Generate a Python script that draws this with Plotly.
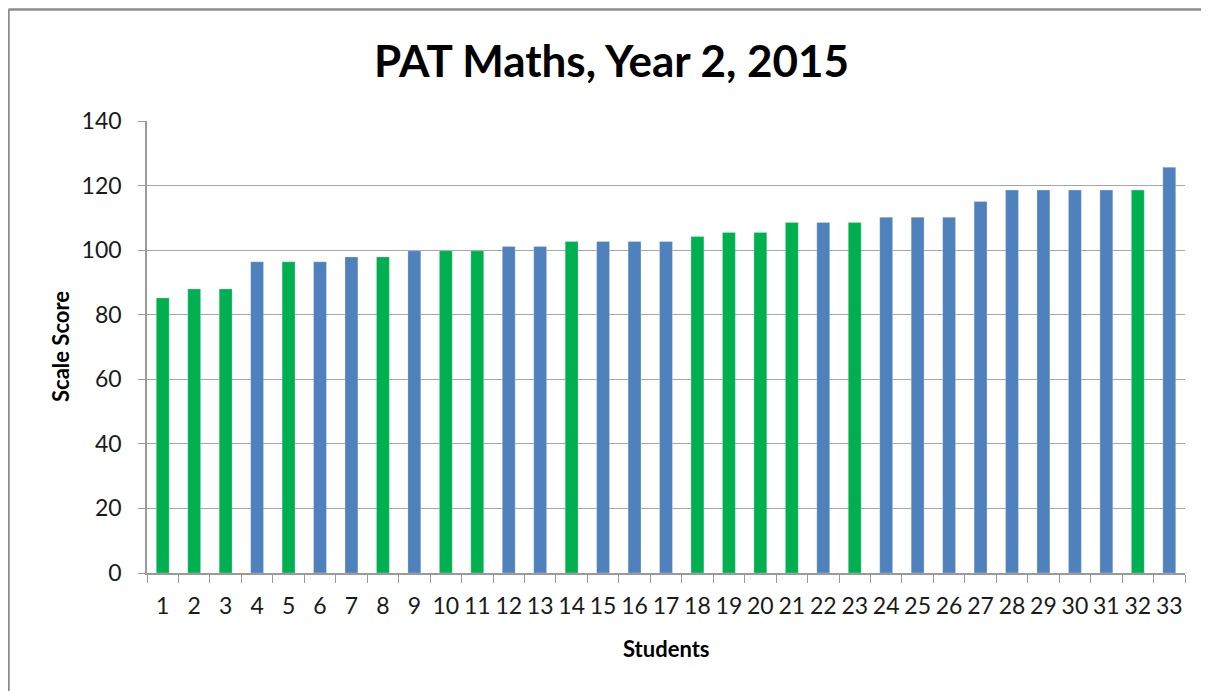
import plotly.graph_objects as go

students = [str(i) for i in range(1, 34)]
scores = [85.2, 88.0, 88.0, 96.4, 96.4, 96.4, 97.9, 97.9, 99.8, 99.8, 99.8,
          101.1, 101.1, 102.7, 102.7, 102.7, 102.7, 104.2, 105.5, 105.5,
          108.6, 108.6, 108.6, 110.2, 110.2, 110.2, 115.1, 118.6, 118.6,
          118.6, 118.6, 118.6, 125.7]
groups = ["g", "g", "g", "b", "g", "b", "b", "g", "b", "g", "g",
          "b", "b", "g", "b", "b", "b", "g", "g", "g",
          "g", "b", "g", "b", "b", "b", "b", "b", "b",
          "b", "b", "g", "b"]
palette = {"g": "#00B050", "b": "#4F81BD"}
y_ticks = [0, 20, 40, 60, 80, 100, 120, 140]

# page body adds an 8px offset; figure coordinates = screen - 8
W, H = 1201, 683
L, R, T, B = 139, 24, 113, 118
pw, ph = W - L - R, H - T - B

FONT = "Lato, 'Open Sans', sans-serif"

fig = go.Figure(go.Bar(
    x=students, y=scores,
    marker=dict(color=[palette[g] for g in groups],
                line=dict(color="rgba(255,255,255,0.5)", width=0.5)),
    width=0.41,
))

def px_x(p):
    return (p - L) / pw

def px_y(p):
    return (H - B - p) / ph

fig.add_shape(type="line", xref="paper", yref="paper",
              x0=px_x(0.5), x1=px_x(W), y0=px_y(1.5), y1=px_y(1.5),
              line=dict(color="#8c8c8c", width=2.5))
fig.add_shape(type="line", xref="paper", yref="paper",
              x0=px_x(0.5), x1=px_x(0.5), y0=px_y(1.5), y1=px_y(H),
              line=dict(color="#8c8c8c", width=2.5))

fig.add_annotation(text="<b>Students</b>", xref="paper", yref="paper",
                   x=px_x(658), y=px_y(640), xanchor="center", yanchor="middle",
                   showarrow=False, font=dict(family=FONT, size=22, color="#000000"))
fig.add_annotation(text="<b>Scale Score</b>", xref="paper", yref="paper",
                   x=px_x(52), y=0.5, xanchor="center", yanchor="middle", textangle=-90,
                   showarrow=False, font=dict(family=FONT, size=22, color="#000000"))

fig.update_layout(
    width=W, height=H,
    margin=dict(l=L, r=R, t=T, b=B),
    paper_bgcolor="white", plot_bgcolor="white",
    showlegend=False,
    title=dict(text="<b>PAT Maths, Year 2, 2015</b>", x=603.5 / W, xanchor="center",
               y=1 - 54 / H, yanchor="middle",
               font=dict(family=FONT, size=44, color="#000000")),
    font=dict(family=FONT, color="#222222"),
)
fig.update_xaxes(
    type="category",
    showline=True, linecolor="#9a9a9a", linewidth=1.5,
    ticks="outside", tickson="boundaries", ticklen=8, tickcolor="#9a9a9a",
    tickfont=dict(size=23, color="#1a1a1a"),
    tickangle=0,
    ticklabelstandoff=12,
    showgrid=False,
)
fig.update_yaxes(
    range=[0, 140], tickvals=y_ticks,
    showline=True, linecolor="#9a9a9a", linewidth=1.5,
    ticks="outside", ticklen=7, tickcolor="#9a9a9a",
    showgrid=True, gridcolor="#a6a6a6", gridwidth=1.2,
    zeroline=False,
    tickfont=dict(size=23, color="#1a1a1a"),
    ticklabelstandoff=12,
)

fig.write_html("out.html")
